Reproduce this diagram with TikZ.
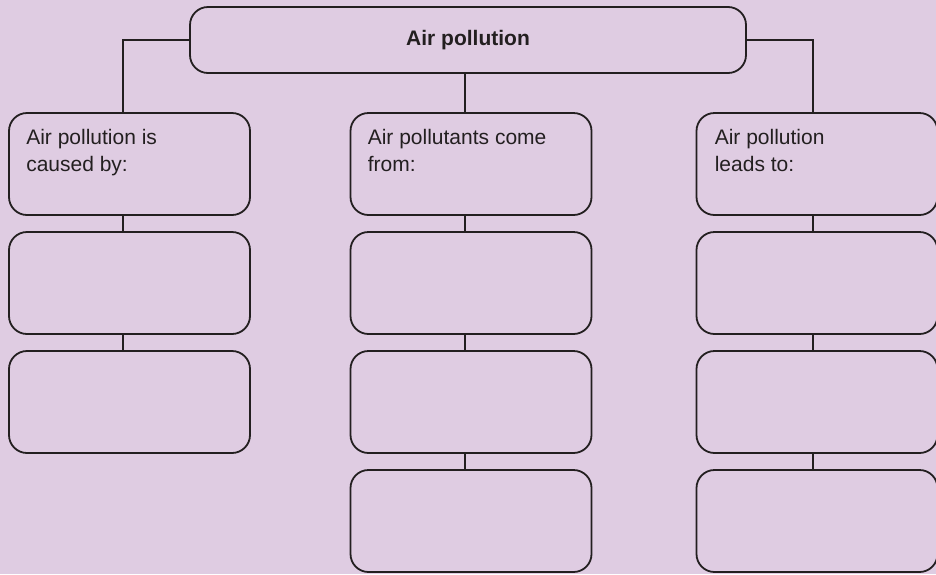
\documentclass[tikz,border=0pt]{standalone}
\usepackage{fontspec}
\setmainfont{Liberation Sans}
\usetikzlibrary{positioning}
\definecolor{lilac}{HTML}{DFCCE2}
\definecolor{ink}{HTML}{231F20}

\begin{document}
\begin{tikzpicture}[
    x=1pt, y=1pt,
    node distance=15.2pt,
    box/.style={rectangle, rounded corners=18pt, draw=ink, line width=1.8pt,
                fill=lilac, minimum width=241pt, minimum height=102pt},
    head/.style={font=\fontsize{21}{27}\selectfont, text=ink,
                 align=left, anchor=north west, inner sep=0pt},
    link/.style={draw=ink, line width=1.8pt}
  ]
  \useasboundingbox (0,0) rectangle (936,-574);
  \fill[lilac] (0,0) rectangle (936,-574);

  \node[box, minimum width=556pt, minimum height=66pt, text=ink,
        font=\fontsize{21}{27}\selectfont\bfseries] (title) at (468,-40) {Air pollution};

  % three columns
  \node[box] (cause) at (129.5,-164) {};
  \node[box, below=of cause] (cause2) {};
  \node[box, below=of cause2] (cause3) {};

  \node[box] (source) at (471,-164) {};
  \node[box, below=of source] (source2) {};
  \node[box, below=of source2] (source3) {};
  \node[box, below=of source3] (source4) {};

  \node[box] (effect) at (817,-164) {};
  \node[box, below=of effect] (effect2) {};
  \node[box, below=of effect2] (effect3) {};
  \node[box, below=of effect3] (effect4) {};

  \node[head] (causetext) at ([shift={(18pt,-17pt)}]cause.north west) {Air pollution is\\caused by:};
  \node[head] (sourcetext) at ([shift={(18pt,-17pt)}]source.north west) {Air pollutants come\\from:};
  \node[head] (effecttext) at ([shift={(19pt,-17pt)}]effect.north west) {Air pollution\\leads to:};

  % connectors
  \draw[link] (title.west) -| ([xshift=-6.5pt]cause.north);
  \draw[link] ([xshift=-6pt]source.north) -- ([xshift=-6pt]source.north |- title.south);
  \draw[link] (title.east) -| ([xshift=-4pt]effect.north);

  \foreach \a/\b/\d in {cause/cause2/-6.5, cause2/cause3/-6.5,
                        source/source2/-6, source2/source3/-6, source3/source4/-6,
                        effect/effect2/-4, effect2/effect3/-4, effect3/effect4/-4}
    \draw[link] ([xshift=\d pt]\a.south) -- ([xshift=\d pt]\b.north);
\end{tikzpicture}
\end{document}
